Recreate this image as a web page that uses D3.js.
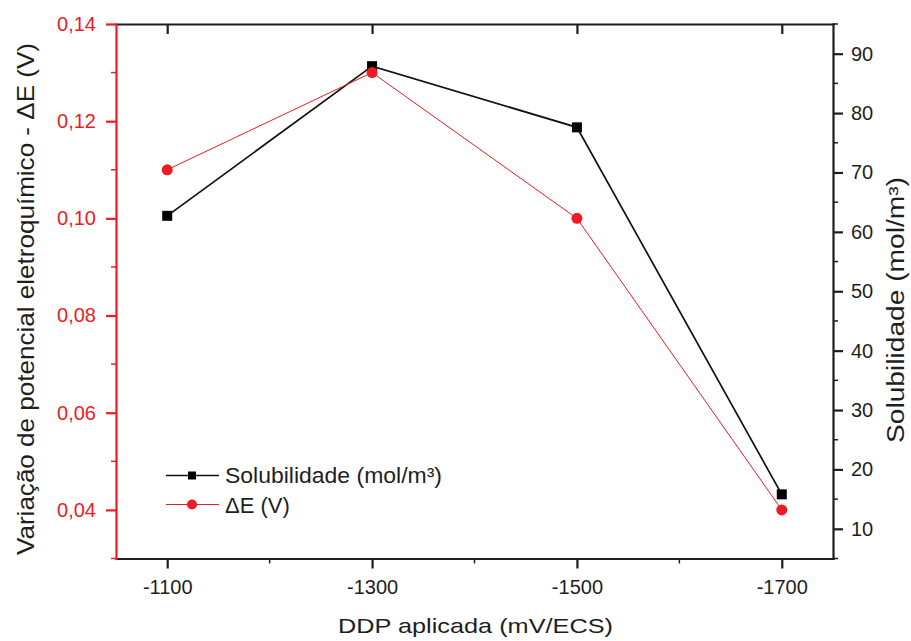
<!DOCTYPE html>
<html><head><meta charset="utf-8">
<script src="https://cdn.jsdelivr.net/npm/d3@7"></script>
<style>body{margin:0;background:#fff}svg{display:block}text{font-family:"Liberation Sans",Arial,sans-serif}</style>
</head><body><svg id="c" width="911" height="641"></svg>
<script>
const categories = [-1100, -1300, -1500, -1700];
const solubilidade = [62.7, 87.9, 77.6, 15.8];
const deltaE = [0.110, 0.130, 0.100, 0.040];
const xTicks = [-1100, -1300, -1500, -1700];
const xMinor = [-1200, -1400, -1600];
const leftTicks = [0.04, 0.06, 0.08, 0.10, 0.12, 0.14];
const leftMinor = [0.03, 0.05, 0.07, 0.09, 0.11, 0.13];
const rightTicks = [10, 20, 30, 40, 50, 60, 70, 80, 90];
const rightMinor = [5, 15, 25, 35, 45, 55, 65, 75, 85, 95];

const RED = "#ee1a24";
const DARK = "#1e1e1e";
const svg = d3.select("#c");
const L = 116, R = 833, T = 24, B = 558.5;
const x = d3.scaleLinear().domain([-1050, -1750]).range([L, R]);
const yL = d3.scaleLinear().domain([0.03, 0.14]).range([B, T]);
const yR = d3.scaleLinear().domain([5, 95]).range([B, T]);
const fmtL = d => d3.format(".2f")(d).replace(".", ",");
const fmtX = d => String(d);

function minor(g, vals, pos, horiz, len, color) {
  g.selectAll(".minor").data(vals).enter().append("line").attr("class","minor")
    .attr(horiz ? "x1" : "y1", d => pos(d)).attr(horiz ? "x2" : "y2", d => pos(d))
    .attr(horiz ? "y1" : "x1", 0).attr(horiz ? "y2" : "x2", len)
    .attr("stroke", color).attr("stroke-width", 1.5);
}

// bottom axis
const gb = svg.append("g").attr("transform", `translate(0,${B})`);
gb.call(d3.axisBottom(x).tickValues(xTicks).tickSize(10).tickSizeOuter(0).tickPadding(11).tickFormat(fmtX));
// top axis
const gt = svg.append("g").attr("transform", `translate(0,${T})`);
gt.call(d3.axisBottom(x).tickValues(xTicks).tickSize(10).tickSizeOuter(0).tickFormat(""));
// left axis
const gl = svg.append("g").attr("transform", `translate(${L},0)`);
gl.call(d3.axisLeft(yL).tickValues(leftTicks).tickSize(10).tickSizeOuter(0).tickPadding(10).tickFormat(fmtL));
// right axis
const gr = svg.append("g").attr("transform", `translate(${R},0)`);
gr.call(d3.axisRight(yR).tickValues(rightTicks).tickSize(10).tickSizeOuter(0).tickPadding(8).tickFormat(fmtX));

[gb, gt, gr].forEach(g => { g.selectAll("path, line").attr("stroke", DARK).attr("stroke-width", 2.2); g.selectAll("text").attr("fill", DARK).attr("font-size", 20); });
gl.selectAll("path, line").attr("stroke", RED).attr("stroke-width", 2.2);
gl.selectAll("text").attr("fill", RED).attr("font-size", 20);
minor(gb, xMinor, x, true, 5, DARK);
minor(gl, leftMinor, yL, false, -5, RED);
minor(gr, rightMinor, yR, false, 5, DARK);
svg.selectAll(".domain").attr("stroke-linecap","square");

// black series
const lineS = d3.line().x((d,i)=>x(categories[i])).y(d=>yR(d));
svg.append("path").attr("d", lineS(solubilidade)).attr("fill","none").attr("stroke","#111").attr("stroke-width",1.7);
// red series
const lineE = d3.line().x((d,i)=>x(categories[i])).y(d=>yL(d));
svg.append("path").attr("d", lineE(deltaE)).attr("fill","none").attr("stroke",RED).attr("stroke-width",1);
svg.selectAll(".sq").data(solubilidade).enter().append("rect")
  .attr("x",(d,i)=>x(categories[i])-5).attr("y",d=>yR(d)-5).attr("width",10).attr("height",10).attr("fill","#000");
svg.selectAll(".ci").data(deltaE).enter().append("circle")
  .attr("cx",(d,i)=>x(categories[i])).attr("cy",d=>yL(d)).attr("r",5.5).attr("fill",RED);

// legend
const lg = svg.append("g");
lg.append("line").attr("x1",166).attr("x2",219).attr("y1",475.5).attr("y2",475.5).attr("stroke","#111").attr("stroke-width",1.7);
lg.append("rect").attr("x",188).attr("y",471.5).attr("width",8).attr("height",8).attr("fill","#000");
lg.append("text").attr("x",225).attr("y",482.5).attr("font-size",22).attr("fill",DARK)
  .attr("textLength",217).attr("lengthAdjust","spacingAndGlyphs").text("Solubilidade (mol/m³)");
lg.append("line").attr("x1",166).attr("x2",219).attr("y1",504.5).attr("y2",504.5).attr("stroke",RED).attr("stroke-width",1);
lg.append("circle").attr("cx",192).attr("cy",504.5).attr("r",5).attr("fill",RED);
lg.append("text").attr("x",225).attr("y",513).attr("font-size",22).attr("fill",DARK).text("ΔE (V)");

// titles
svg.append("text").attr("x",475.5).attr("y",633).attr("text-anchor","middle").attr("font-size",21).attr("fill",DARK)
  .attr("textLength",275).attr("lengthAdjust","spacingAndGlyphs").text("DDP aplicada (mV/ECS)");
svg.append("text").attr("transform","translate(34,299) rotate(-90)").attr("text-anchor","middle").attr("font-size",24).attr("fill",DARK)
  .attr("textLength",512).attr("lengthAdjust","spacingAndGlyphs").text("Variação de potencial eletroquímico - ΔE (V)");
svg.append("text").attr("transform","translate(904,310) rotate(-90)").attr("text-anchor","middle").attr("font-size",23).attr("fill",DARK)
  .attr("textLength",266).attr("lengthAdjust","spacingAndGlyphs").text("Solubilidade (mol/m³)");
</script></body></html>
